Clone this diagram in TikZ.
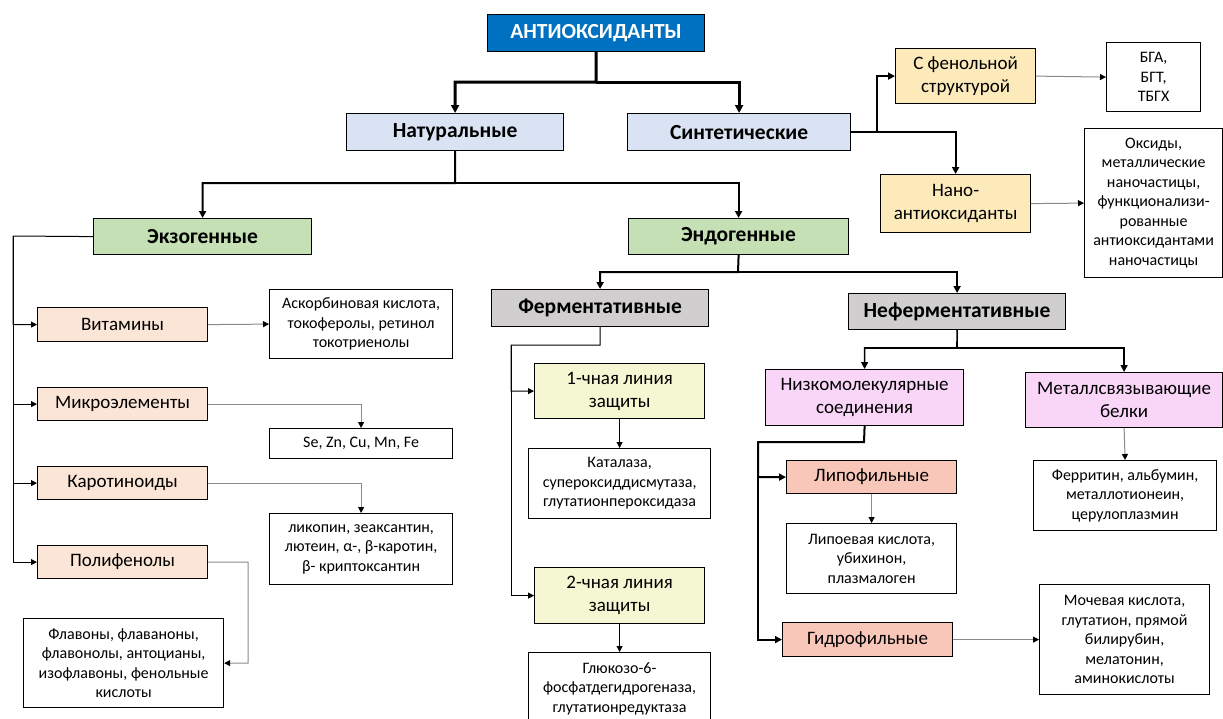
\documentclass[tikz,border=0pt]{standalone}
\usepackage{fontspec}
\setmainfont{Carlito}
\usetikzlibrary{arrows.meta}

\definecolor{cTop}{HTML}{0070C0}
\definecolor{cKind}{HTML}{DAE3F3}
\definecolor{cOrig}{HTML}{C5E0B4}
\definecolor{cSyn}{HTML}{FCEABB}
\definecolor{cExo}{HTML}{FBE5D6}
\definecolor{cEnz}{HTML}{D0CECE}
\definecolor{cLine}{HTML}{F5F7D3}
\definecolor{cNon}{HTML}{F9D6F8}
\definecolor{cSol}{HTML}{F9C7BA}
\definecolor{cLeaf}{HTML}{8A8A8A}

% box placed by its top-left and bottom-right corners
\newcommand{\mkbox}[7]{%
  \node[#2, anchor=north west, minimum width={#5-#3}, minimum height={#6-#4}] (#1) at (#3,#4) {#7};}

\tikzset{
  base/.style={draw=black, line width=1.2pt, inner sep=0pt, align=center,
               font=\fontsize{19}{23.3}\selectfont},
  head/.style={base, font=\fontsize{21.5}{25}\selectfont\bfseries},
  topbox/.style={head, fill=cTop, text=white},
  kindbox/.style={head, fill=cKind},
  origbox/.style={head, fill=cOrig},
  enzbox/.style={head, fill=cEnz},
  synbox/.style={base, fill=cSyn},
  exobox/.style={base, fill=cExo},
  linebox/.style={base, fill=cLine},
  nonbox/.style={base, fill=cNon},
  solbox/.style={base, fill=cSol},
  leafbox/.style={base, fill=white, font=\fontsize{16}{19.5}\selectfont},
  wide/.style={draw=black, line width=3pt, -{Triangle[length=8pt,width=8pt]}},
  mid/.style={draw=black, line width=2pt, -{Triangle[length=7pt,width=7pt]}},
  slim/.style={draw=black, line width=1pt, -{Triangle[length=6pt,width=6pt]}},
  leaf/.style={draw=cLeaf, line width=1pt, -{Triangle[length=6pt,width=6pt,color=black]}},
}

\begin{document}
\begin{tikzpicture}[x=1pt, y=-1pt]
\useasboundingbox (0,0) rectangle (1223,718);

% ---- upper levels
\mkbox{anti}{topbox}{487}{14}{704}{51}{АНТИОКСИДАНТЫ}
\mkbox{nat}{kindbox}{346}{113}{563}{150}{Натуральные}
\mkbox{syn}{kindbox}{627}{113}{850}{150}{Синтетические}
\mkbox{exo}{origbox}{93}{218}{311}{254}{Экзогенные}
\mkbox{endo}{origbox}{628}{218}{848}{254}{Эндогенные}

% ---- synthetic branch
\mkbox{fen}{synbox}{895}{48}{1035}{103}{С фенольной\\структурой}
\mkbox{bga}{leafbox}{1106}{42}{1200}{111}{БГА,\\БГТ,\\ТБГХ}
\mkbox{nano}{synbox}{880}{174}{1030}{232}{Нано-\\антиоксиданты}
\mkbox{oks}{leafbox}{1084}{128}{1222}{277}{Оксиды,\\металлические\\наночастицы,\\функционализи-\\рованные\\антиоксидантами\\наночастицы}

% ---- exogenous branch
\mkbox{vit}{exobox}{37}{307}{207}{341}{Витамины}
\mkbox{micro}{exobox}{37}{387}{207}{420}{Микроэлементы}
\mkbox{karo}{exobox}{37}{466}{207}{499}{Каротиноиды}
\mkbox{poly}{exobox}{37}{545}{207}{578}{Полифенолы}
\mkbox{asc}{leafbox}{269}{289}{452}{358}{Аскорбиновая кислота,\\токоферолы, ретинол\\токотриенолы}
\mkbox{se}{leafbox}{269}{428}{452}{458}{Se, Zn, Cu, Mn, Fe}
\mkbox{lik}{leafbox}{269}{513}{452}{584}{ликопин, зеаксантин,\\лютеин, α-, β-каротин,\\β- криптоксантин}
\mkbox{flav}{leafbox}{23}{618}{223}{707}{Флавоны, флаваноны,\\флавонолы, антоцианы,\\изофлавоны, фенольные\\кислоты}

% ---- endogenous branch
\mkbox{ferm}{enzbox}{491}{289}{708}{326}{Ферментативные}
\mkbox{nferm}{enzbox}{848}{293}{1065}{329}{Неферментативные}
\mkbox{lone}{linebox}{534}{363}{704}{418}{1-чная линия\\защиты}
\mkbox{kat}{leafbox}{528}{448}{710}{518}{Каталаза,\\супероксиддисмутаза,\\глутатионпероксидаза}
\mkbox{ltwo}{linebox}{534}{567}{704}{623}{2-чная линия\\защиты}
\mkbox{glu}{leafbox}{528}{652}{710}{724}{Глюкозо-6-\\фосфатдегидрогеназа,\\глутатионредуктаза}
\mkbox{low}{nonbox}{765}{369}{963}{425}{Низкомолекулярные\\соединения}
\mkbox{metal}{nonbox}{1025}{372}{1222}{427}{Металлсвязывающие\\белки}
\mkbox{fer}{leafbox}{1033}{460}{1216}{530}{Ферритин, альбумин,\\металлотионеин,\\церулоплазмин}
\mkbox{lipo}{solbox}{786}{460}{956}{493}{Липофильные}
\mkbox{lipoev}{leafbox}{786}{523}{956}{593}{Липоевая кислота,\\убихинон,\\плазмалоген}
\mkbox{hydro}{solbox}{782}{622}{952}{656}{Гидрофильные}
\mkbox{moch}{leafbox}{1039}{584}{1209}{694}{Мочевая кислота,\\глутатион, прямой\\билирубин,\\мелатонин,\\аминокислоты}

% ---- junction points
\coordinate (jA) at (596,82);
\coordinate (jN) at (455,183);
\coordinate (jS) at (877,131);
\coordinate (jX) at (13,236);
\coordinate (jP) at (248,562);
\coordinate (jE) at (738,272);
\coordinate (jF1) at (600,345);
\coordinate (jF2) at (511,345);
\coordinate (jNF) at (957,348);
\coordinate (jL1) at (864,442);
\coordinate (jL2) at (758,442);

% ---- connectors
\draw[wide] (anti.south) -- (jA) -| (nat.north);
\draw[wide] (jA) -| (syn.north);

\draw[mid] (nat.south) -- (jN) -| (exo.north);
\draw[mid] (jN) -| (endo.north);

\draw[mid] (syn.east) -| (nano.north);
\draw[mid] (jS) |- (fen.west);
\draw[leaf] (fen.east) -- (bga.west);
\draw[leaf] (nano.east) -- (oks.west);

\draw[slim] (exo.west) -- (jX) |- (vit.west);
\draw[slim] (jX) |- (micro.west);
\draw[slim] (jX) |- (karo.west);
\draw[slim] (jX) |- (poly.west);
\draw[leaf] (vit.east) -- (asc.west);
\draw[leaf] (micro.east) -| (se.north);
\draw[leaf] (karo.east) -| (lik.north);
\draw[leaf] (poly.east) -- (jP) |- (flav.east);

\draw[mid] (endo.south) -- (jE) -| (ferm.north);
\draw[mid] (jE) -| (nferm.north);

\draw[slim] (ferm.south) -- (jF1) -- (jF2) |- (lone.west);
\draw[slim] (jF2) |- (ltwo.west);
\draw[slim] (lone.south) -- (kat.north);
\draw[slim] (ltwo.south) -- (glu.north);

\draw[mid, line width=1.6pt] (nferm.south) -- (jNF) -| (low.north);
\draw[mid, line width=1.6pt] (jNF) -| (metal.north);
\draw[leaf] (metal.south) -- (fer.north);

\draw[mid] (low.south) -- (jL1) -- (jL2) |- (lipo.west);
\draw[mid] (jL2) |- (hydro.west);
\draw[leaf] (lipo.south) -- (lipoev.north);
\draw[leaf] (hydro.east) -- (moch.west);
\end{tikzpicture}
\end{document}
